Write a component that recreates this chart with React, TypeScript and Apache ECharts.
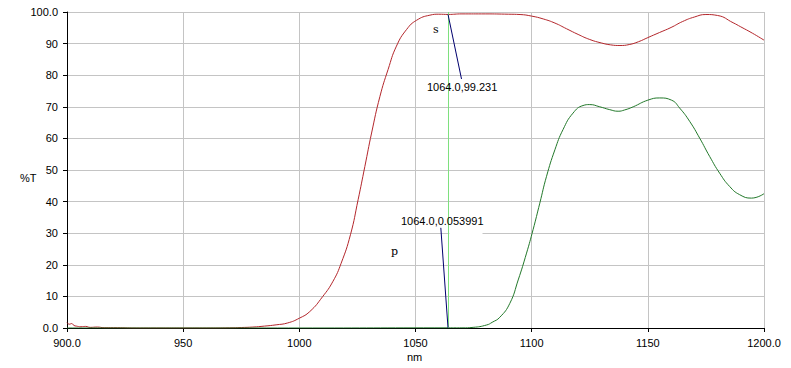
import React, { useEffect, useRef } from "react";
import * as echarts from "echarts";

const sWavelengths = [900, 901, 902, 903, 904, 906, 908, 910, 913, 916, 920, 930, 940, 950, 960, 970, 975, 980, 985, 990, 995, 1000, 1004.5, 1010, 1014.5, 1018, 1022, 1025.3, 1028.2, 1031.1, 1034.7, 1038.2, 1041.8, 1046.2, 1050.5, 1056.2, 1060, 1064, 1070, 1080, 1090, 1095, 1100, 1105, 1110, 1115, 1120, 1125, 1130, 1134, 1138, 1142, 1146, 1150, 1155, 1160, 1165, 1170, 1175, 1180, 1186.7, 1190, 1195, 1200];
const sValues = [1.7, 1.2, 1.4, 0.8, 0.6, 0.4, 0.5, 0.2, 0.3, 0.1, 0.1, 0, 0, 0, 0, 0.05, 0.15, 0.3, 0.6, 1.0, 1.6, 3.1, 5.2, 9.9, 14.8, 20.5, 29.5, 40.6, 51.1, 61.7, 73.3, 81.8, 89.2, 94.5, 97.4, 99.0, 99.3, 99.231, 99.4, 99.4, 99.3, 99.2, 98.7, 97.8, 96.5, 94.7, 92.9, 91.3, 90.2, 89.6, 89.4, 89.7, 90.6, 91.9, 93.5, 95.1, 97.0, 98.4, 99.2, 98.9, 96.6, 95.3, 93.3, 91.1];

const pWavelengths = [900, 1000, 1064, 1070, 1074.8, 1080.6, 1083, 1086.3, 1090.6, 1094.2, 1097.8, 1100.6, 1103.5, 1106.4, 1110, 1113.5, 1117.8, 1122.1, 1125, 1129.3, 1133.6, 1137.2, 1140, 1143.7, 1150, 1155.1, 1160.2, 1163.7, 1168, 1172.3, 1176.6, 1180.9, 1185.2, 1189.5, 1194.6, 1200];
const pValues = [0, 0, 0.054, 0.05, 0.2, 0.95, 1.8, 3.4, 7.8, 15.2, 23.7, 31.1, 39.5, 48, 56.4, 62.8, 68, 70.4, 70.7, 70, 69.1, 68.6, 69, 70, 72.1, 72.8, 72.1, 69.6, 65.4, 60.1, 54.3, 49, 44.8, 42.2, 41.1, 42.5];

const cursorX = 1064;
const sReading = [1064, 99.231];
const sLabelAnchor = [1069.8, 78.8];
const pReading = [1064, 0.053991];
const pLabelAnchor = [1060.9, 31.7];
const sLabel = "1064.0,99.231";
const pLabel = "1064.0,0.053991";

const xMin = 900, xMax = 1200, xStep = 50;
const yMin = 0, yMax = 100, yStep = 10;

export default function App() {
  const ref = useRef<HTMLDivElement>(null);
  useEffect(() => {
    if (!ref.current) return;
    const chart = echarts.init(ref.current, null, { renderer: "svg" });
    const font = "Liberation Sans, Arial, sans-serif";
    const serif = "DejaVu Serif, Liberation Serif, serif";
    const sData = sWavelengths.map((w, i) => [w, sValues[i]]);
    const pData = pWavelengths.map((w, i) => [w, pValues[i]]);
    chart.setOption({
      animation: false,
      backgroundColor: "#ffffff",
      grid: { left: 67, top: 12, width: 697, height: 316 },
      xAxis: {
        type: "value",
        min: xMin,
        max: xMax,
        interval: xStep,
        axisLine: { lineStyle: { color: "#000", width: 1 } },
        axisTick: { show: true, length: 4, lineStyle: { color: "#000" } },
        splitLine: { show: true, lineStyle: { color: "#c4c4c4", width: 1 } },
        axisLabel: {
          color: "#000",
          fontFamily: font,
          fontSize: 11,
          margin: 9,
          formatter: (v: number) => (v === xMin || v === xMax ? v.toFixed(1) : String(v)),
        },
      },
      yAxis: {
        type: "value",
        min: yMin,
        max: yMax,
        interval: yStep,
        axisLine: { show: true, lineStyle: { color: "#000", width: 1 } },
        axisTick: { show: true, length: 4, lineStyle: { color: "#000" } },
        splitLine: { show: true, lineStyle: { color: "#c4c4c4", width: 1 } },
        axisLabel: {
          color: "#000",
          fontFamily: font,
          fontSize: 11,
          margin: 9,
          padding: [0, 0, 4, 0],
          formatter: (v: number) => (v === yMin || v === yMax ? v.toFixed(1) : String(v)),
        },
      },
      graphic: [
        { type: "text", left: 20, top: 172, z: 5, style: { text: "%T", fontFamily: font, fontSize: 11, fill: "#000" } },
        { type: "text", left: 407, top: 351, z: 5, style: { text: "nm", fontFamily: font, fontSize: 11, fill: "#000" } },
        { type: "rect", shape: { x: 449.5, y: 229, width: 33, height: 9 }, z: 5, style: { fill: "#fff" } },
        { type: "text", left: 427, top: 81, z: 6, style: { text: sLabel, fontFamily: font, fontSize: 11, fill: "#000" } },
        { type: "text", left: 401, top: 215, z: 6, style: { text: pLabel, fontFamily: font, fontSize: 11, fill: "#000" } },
        { type: "text", left: 433, top: 24, z: 6, style: { text: "s", fontFamily: serif, fontSize: 11, fill: "#000" } },
        { type: "text", left: 391, top: 246, z: 6, style: { text: "p", fontFamily: serif, fontSize: 11, fill: "#000" } },
      ],
      series: [
        {
          name: "s",
          type: "line",
          data: sData,
          showSymbol: false,
          smooth: 0.5,
          lineStyle: { color: "#b3262b", width: 1 },
          z: 3,
          markLine: {
            silent: true,
            symbol: "none",
            label: { show: false },
            data: [
              { xAxis: cursorX, lineStyle: { color: "#7ee07e", width: 1, type: "solid" } },
              [
                { coord: sReading, lineStyle: { color: "#00006e", width: 1, type: "solid" } },
                { coord: sLabelAnchor },
              ],
              [
                { coord: pLabelAnchor, lineStyle: { color: "#00006e", width: 1, type: "solid" } },
                { coord: pReading },
              ],
            ],
          },
        },
        {
          name: "p",
          type: "line",
          data: pData,
          showSymbol: false,
          smooth: 0.5,
          lineStyle: { color: "#22782a", width: 1 },
          z: 3,
        },
      ],
    });
    return () => chart.dispose();
  }, []);
  return <div ref={ref} style={{ width: 791, height: 368, position: "absolute", left: 0, top: 0 }} />;
}
